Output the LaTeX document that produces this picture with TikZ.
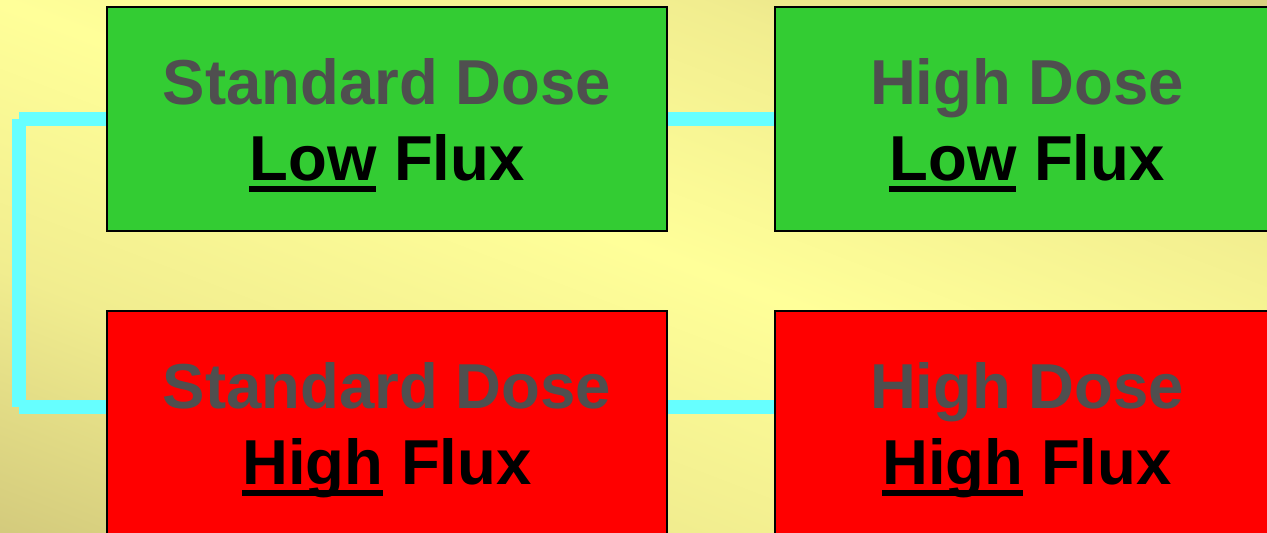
\documentclass[tikz,border=0pt]{standalone}
\usepackage{fontspec}
\setmainfont{Liberation Sans}
\definecolor{bglight}{HTML}{FFFF99}
\definecolor{bgmid}{HTML}{F1ED8F}
\definecolor{bgdark}{HTML}{D3CA7C}
\definecolor{boxgreen}{HTML}{33CC33}
\definecolor{boxred}{HTML}{FF0000}
\definecolor{dosegray}{HTML}{4F4F4F}
\definecolor{linkcyan}{HTML}{66FFFF}
\pgfdeclareverticalshading{slideband}{100bp}{color(0bp)=(bgdark); color(25bp)=(bgdark);
  color(37.5bp)=(bgmid); color(50bp)=(bglight); color(62.5bp)=(bgmid);
  color(75bp)=(bgdark); color(100bp)=(bgdark)}
\pgfdeclarelayer{back}
\pgfdeclarelayer{links}
\pgfsetlayers{back,links,main}
\newcommand\boxfont{\fontsize{31.75}{38}\selectfont\bfseries}
% dicke Unterstreichung, die durch die Unterlaengen laeuft
\newcommand\fluxmark[1]{\sbox0{#1}\rlap{\rule[-0.19em]{\wd0}{0.095em}}\usebox0}
\begin{document}
\begin{tikzpicture}[x=0.5pt,y=-0.5pt,
  box/.style={draw=black,line width=1pt,inner sep=0pt,minimum height=112pt},
  lowbox/.style={box,fill=boxgreen},
  highbox/.style={box,fill=boxred},
  dose/.style={font=\boxfont,text=dosegray,anchor=base,inner sep=0pt},
  flux/.style={font=\boxfont,text=black,anchor=base,inner sep=0pt},
  link/.style={draw=linkcyan,line width=7pt}]
\useasboundingbox (0,0) rectangle (1267,532);
% Hintergrund: heller Streifen schraeg durch die Mitte
\begin{pgfonlayer}{back}
\clip (0,0) rectangle (1267,532);
\begin{scope}[transform canvas={shift={(700,270)},rotate=-21}]
\shade[shading=slideband] (-1500,-500) rectangle (1500,500);
\end{scope}
\end{pgfonlayer}
% Kaesten: oben niedriger Fluss (gruen), unten hoher Fluss (rot)
\node[lowbox,minimum width=280pt] (stdlow) at (387,119) {};
\node[lowbox,minimum width=252pt] (highlow) at (1027,119) {};
\node[highbox,minimum width=280pt] (stdhigh) at (387,423) {};
\node[highbox,minimum width=252pt] (highhigh) at (1027,423) {};
% Knickpunkte der Klammer links
\coordinate (bendtop) at (19,119);
\coordinate (bendbot) at (19,406.5);
% Verbindungen (hinter den Kaesten)
\begin{pgfonlayer}{links}
\draw[link] (bendtop) -- (stdlow.west);
\draw[link] (bendtop) -- (bendbot);
\draw[link] (bendbot) -- ([yshift=8.25pt]stdhigh.west);
\draw[link] (stdlow.east) -- (highlow.west);
\draw[link] ([yshift=8.25pt]stdhigh.east) -- ([yshift=8.25pt]highhigh.west);
\end{pgfonlayer}
% Beschriftungen
\node[dose] (stdlow-dose)   at (387,104)  {Standard Dose};
\node[flux] (stdlow-flux)   at (387,180)  {\fluxmark{Low} Flux};
\node[dose] (highlow-dose)  at (1027,104) {High Dose};
\node[flux] (highlow-flux)  at (1027,180) {\fluxmark{Low} Flux};
\node[dose] (stdhigh-dose)  at (387,408)  {Standard Dose};
\node[flux] (stdhigh-flux)  at (387,484)  {\fluxmark{High} Flux};
\node[dose] (highhigh-dose) at (1027,408) {High Dose};
\node[flux] (highhigh-flux) at (1027,484) {\fluxmark{High} Flux};
\end{tikzpicture}
\end{document}
